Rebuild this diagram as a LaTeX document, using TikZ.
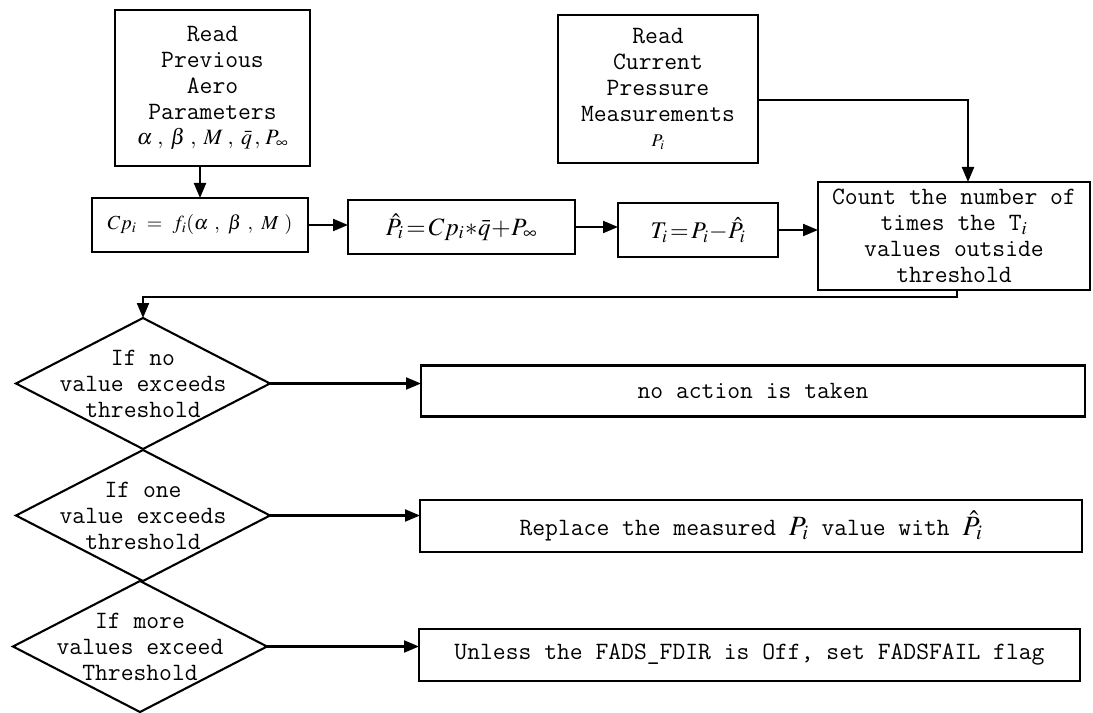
\documentclass[tikz,border=0pt]{standalone}
\usepackage{mathptmx}
\usetikzlibrary{shapes.geometric,arrows.meta}
\begin{document}
\begin{tikzpicture}[x=1bp,y=-1bp,
  every node/.style={inner sep=0pt, outer sep=0pt},
  procbox/.style={draw, line width=2.1bp, align=center,
    font=\fontsize{25}{26}\selectfont\ttfamily},
  mathbox/.style={draw, line width=2.1bp, align=center},
  decision/.style={draw, diamond, line width=2.1bp, minimum width=254bp,
    minimum height=131bp, inner sep=0pt},
  dtext/.style={align=center, font=\fontsize{25}{26}\selectfont\ttfamily},
  arr/.style={line width=2.1bp, -{Triangle[length=15bp,width=12bp]}},
]
% page frame
\fill[white] (0,0) rectangle (1093,713);
\useasboundingbox (0,0) rectangle (1093,713);

% input boxes
\node[procbox, minimum width=195bp, minimum height=156bp] (prev) at (212.5,88)
  {Read\\Previous\\Aero\\Parameters\\[-1bp]
   {\fontsize{22}{24}\selectfont$\alpha\;,\;\beta\;,\;M\;,\;\bar{q}\,,\,P_{\infty}$}};
\node[procbox, minimum width=200bp, minimum height=148bp] (cur) at (658,89)
  {Read\\Current\\Pressure\\Measurements\\[-1bp]
   {\fontsize{18}{22}\selectfont$P_i$}};

% computation chain
\node[mathbox, minimum width=216bp, minimum height=54bp] (cp) at (200,225)
  {\fontsize{20}{24}\selectfont$Cp_i\ =\ f_i(\alpha\ ,\ \beta\ ,\ M\ )$};
\node[mathbox, minimum width=227bp, minimum height=54bp] (phat) at (461.5,227)
  {\fontsize{25}{28}\selectfont$\hat{P}_i\!=\!Cp_i\!*\!\bar{q}\!+\!P_{\infty}$};
\node[mathbox, minimum width=160bp, minimum height=54bp] (tee) at (698,230)
  {\fontsize{24}{28}\selectfont$T_i\!=\!P_i\!-\!\hat{P}_i$};
\node[procbox, minimum width=272bp, minimum height=108bp] (count) at (954,236)
  {Count the number of\\times the T$_{i}$\\values outside\\threshold};

% decisions
\node[decision, label={[dtext]center:If no\\value exceeds\\threshold}] (d1) at (143,383.5) {};
\node[decision, label={[dtext]center:If one\\value exceeds\\threshold}] (d2) at (143,515.5) {};
\node[decision, label={[dtext]center:If more\\values exceed\\Threshold}] (d3) at (140,646.5) {};

% outcomes
\node[procbox, minimum width=664bp, minimum height=51bp] (noact) at (753,391)
  {no action is taken};
\node[procbox, minimum width=662bp, minimum height=52bp] (repl) at (751,526)
  {Replace the measured {\fontsize{28}{28}\selectfont$P_i$} value with {\fontsize{28}{28}\selectfont$\hat{P}_i$}};
\node[procbox, minimum width=661bp, minimum height=52bp] (unless) at (749.5,655)
  {Unless the FADS\_FDIR is Off, set FADSFAIL flag};

% connectors
\draw[arr] (cp.north |- prev.south) -- (cp.north);
\draw[arr] (cp.east) -- (cp.east -| phat.west);
\draw[arr] (phat.east) -- (phat.east -| tee.west);
\draw[arr] (tee.east) -- (tee.east -| count.west);
\draw[arr] ([yshift=-11bp]cur.east) -| ([xshift=14bp]count.north);
\draw[arr] ([xshift=3bp]count.south) -- ++(0,7) -| (d1.north);
\draw[arr] (d1.east) -- (d1.east -| noact.west);
\draw[arr] (d2.east) -- (d2.east -| repl.west);
\draw[arr] (d3.east) -- (d3.east -| unless.west);
\end{tikzpicture}
\end{document}
